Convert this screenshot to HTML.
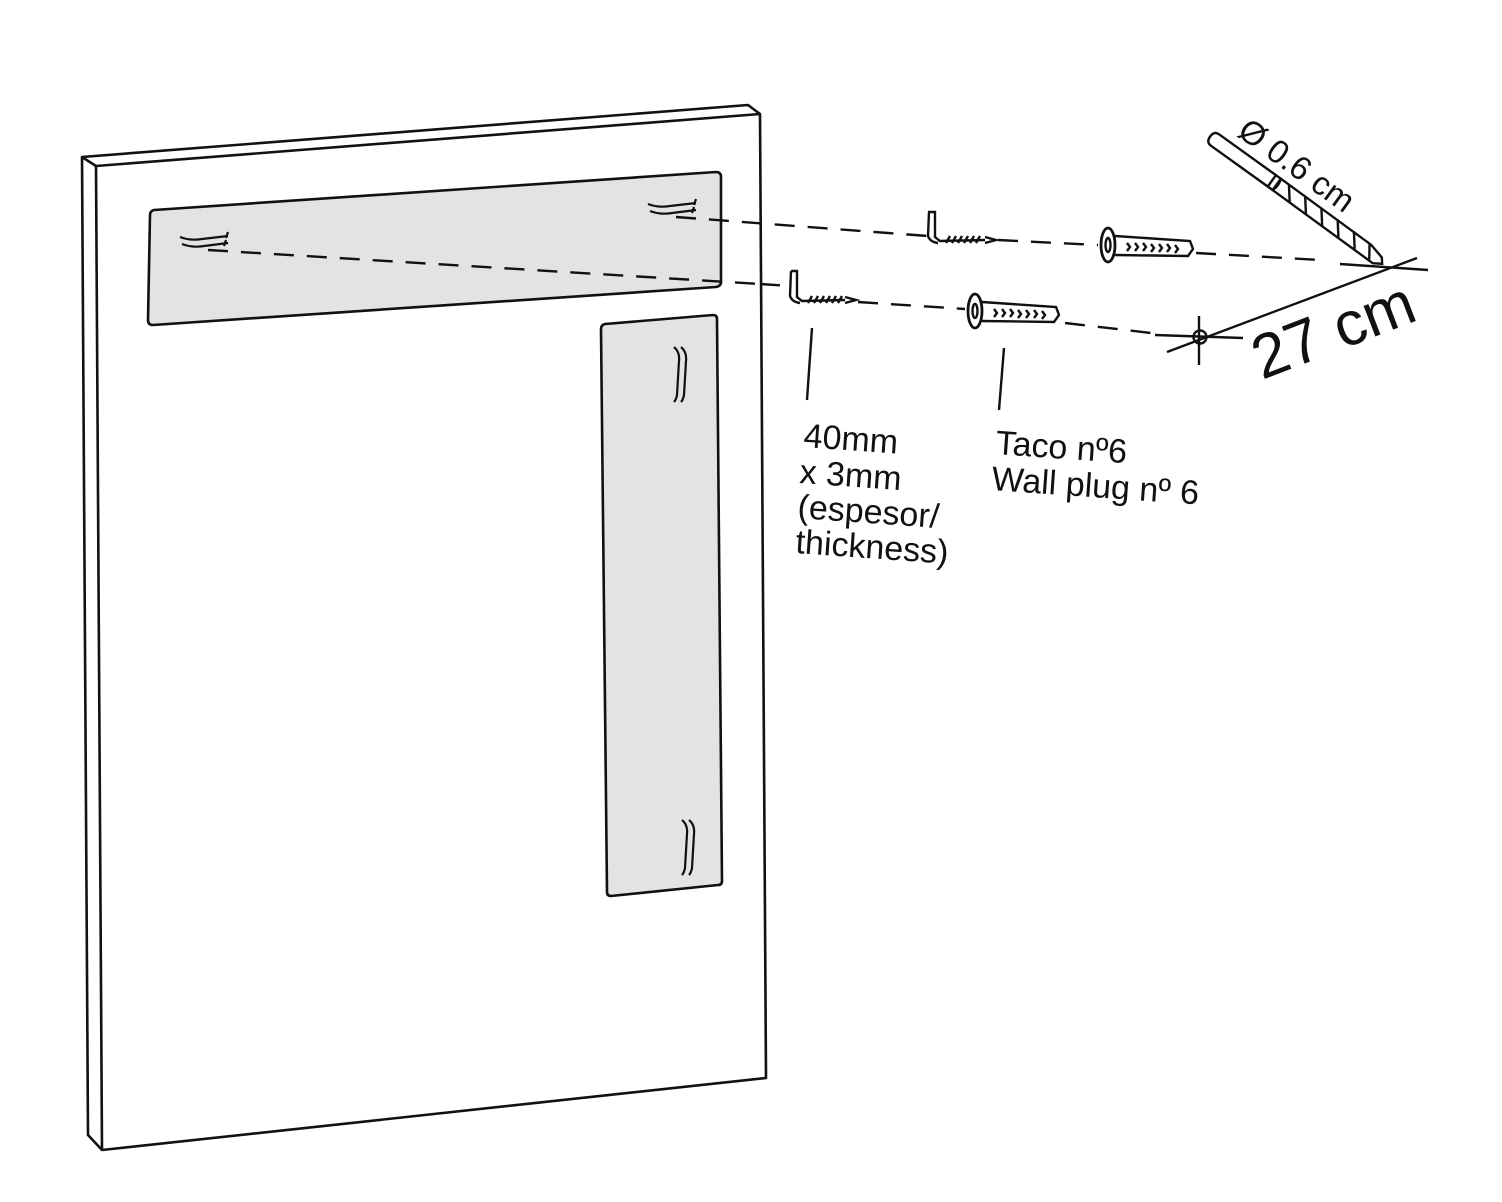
<!DOCTYPE html>
<html><head><style>
html,body{margin:0;padding:0;background:#fff;}
svg{display:block;}
text{font-family:"Liberation Sans",Arial,sans-serif;fill:#111;}
</style></head><body>
<svg width="1502" height="1202" viewBox="0 0 1502 1202" xmlns="http://www.w3.org/2000/svg">
<g fill="none" stroke="#111" stroke-width="2.6" stroke-linejoin="round">
<polygon points="82,157 748,105 760,114 766,1078 102,1150 88,1135" fill="#fff"/>
<polyline points="82,157 96,166 760,114"/>
<line x1="96" y1="166" x2="102" y2="1150"/>
<path d="M154,210 L716,172 Q721,172 721,177 L721,282 Q721,286 716,287 L153,325 Q148,325 148,320 L150,215 Q150,211 154,210 Z" fill="#e3e3e2"/>
<path d="M605,324 L713,315 Q717,315 717,319 L722,881 Q722,885 718,885 L611,896 Q607,896 607,892 L601,329 Q601,325 605,324 Z" fill="#e3e3e2"/>
</g>
<g fill="none" stroke="#111" stroke-width="2.2">
<path d="M180,237 q10,4 22,2 l26,-3 M182,244 q10,4 22,2 l24,-3 M228,232 l-2,6 M226,240 l-2,6"/>
<path d="M648,204 q10,4 22,2 l26,-3 M650,211 q10,4 22,2 l24,-3 M696,199 l-2,6 M694,207 l-2,6"/>
<path d="M674,347 q6,5 5,14 l-2,34 q-1,5 -3,7 M681,347 q6,5 5,14 l-2,34 q-1,5 -3,7"/>
<path d="M682,820 q6,5 5,14 l-2,34 q-1,5 -3,7 M689,820 q6,5 5,14 l-2,34 q-1,5 -3,7"/>
</g>
<g stroke="#111" stroke-width="2.4" stroke-dasharray="20,13" fill="none">
<line x1="676" y1="217" x2="928" y2="236"/>
<line x1="998" y1="240" x2="1098" y2="245"/>
<line x1="1196" y1="253" x2="1320" y2="260"/>
<line x1="208" y1="250" x2="760" y2="284"/>
<line x1="760" y1="284" x2="790" y2="286"/>
<line x1="858" y1="302" x2="965" y2="309"/>
<line x1="1065" y1="323" x2="1160" y2="334"/>
</g>
<g fill="none" stroke="#111" stroke-width="2.4">
<path d="M928,212 L935,212 L935,237 L940,241 L985,240"/>
<path d="M929,212 L928,236 Q930,242 938,243"/>
<path d="M985,237 L996,240 L985,243"/>
<path d="M946,243 l4,-7 M952,243 l4,-7 M958,243 l4,-7 M964,243 l4,-7 M970,243 l4,-7 M976,243 l4,-7"/>
<path d="M791,271 L797,271 L797,297 L802,301 L845,300"/>
<path d="M791,271 L790,296 Q792,302 800,303"/>
<path d="M845,297 L856,300 L845,303"/>
<path d="M808,303 l4,-7 M814,303 l4,-7 M820,303 l4,-7 M826,303 l4,-7 M832,303 l4,-7 M838,303 l4,-7"/>
<ellipse cx="1108" cy="245" rx="7" ry="17" stroke-width="2.8"/>
<ellipse cx="1108" cy="245" rx="2.5" ry="7"/>
<path d="M1115,236 L1190,241 L1193,249 L1188,256 L1115,255"/>
<path d="M1127,243 l3,4 l-3,4 M1135,243 l3,4 l-3,4 M1143,243 l3,4 l-3,4 M1151,244 l3,4 l-3,4 M1159,244 l3,4 l-3,4 M1167,244 l3,4 l-3,4 M1175,245 l3,4 l-3,4"/>
<ellipse cx="975" cy="311" rx="7" ry="17" stroke-width="2.8"/>
<ellipse cx="975" cy="311" rx="2.5" ry="7"/>
<path d="M982,302 L1056,307 L1059,315 L1054,322 L982,321"/>
<path d="M994,309 l3,4 l-3,4 M1002,309 l3,4 l-3,4 M1010,309 l3,4 l-3,4 M1018,310 l3,4 l-3,4 M1026,310 l3,4 l-3,4 M1034,310 l3,4 l-3,4 M1042,311 l3,4 l-3,4"/>
<line x1="812" y1="328" x2="807" y2="400"/>
<line x1="1004" y1="348" x2="999" y2="410"/>
<g transform="translate(1215,140) rotate(35.7)">
<path d="M0,-7 L70,-7 L70,7 L0,7 Q-6,7 -6,0 Q-6,-7 0,-7 Z"/>
<path d="M70,-7 L76,-7 L76,7 L70,7 M76,-7 Q79,0 76,7"/>
<path d="M76,-7 L188,-6 L204,-2 L208,3 L200,8 L76,7"/>
<path d="M86,-7 L97,7 M106,-7 L117,7 M126,-7 L137,7 M146,-7 L157,7 M166,-7 L177,7 M186,-6 L195,7"/>
</g>
<line x1="1340" y1="264" x2="1428" y2="270"/>
<line x1="1167" y1="352" x2="1417" y2="258"/>
<line x1="1155" y1="335" x2="1243" y2="338"/>
<line x1="1199" y1="316" x2="1199" y2="365"/>
<circle cx="1200" cy="337" r="6.5"/>
</g>
<text transform="translate(1236,135) rotate(36)" font-size="33">Ø 0.6 cm</text>
<text transform="translate(1262,380) rotate(-21)" font-size="62">27 cm</text>
<g font-size="34">
<text transform="translate(803,447) rotate(4)">40mm</text>
<text transform="translate(799,483) rotate(4)">x 3mm</text>
<text transform="translate(797,518) rotate(4)">(espesor/</text>
<text transform="translate(795,553) rotate(4)">thickness)</text>
<text transform="translate(995,454) rotate(4)">Taco nº6</text>
<text transform="translate(991,490) rotate(4)">Wall plug nº 6</text>
</g>
</svg>
</body></html>
